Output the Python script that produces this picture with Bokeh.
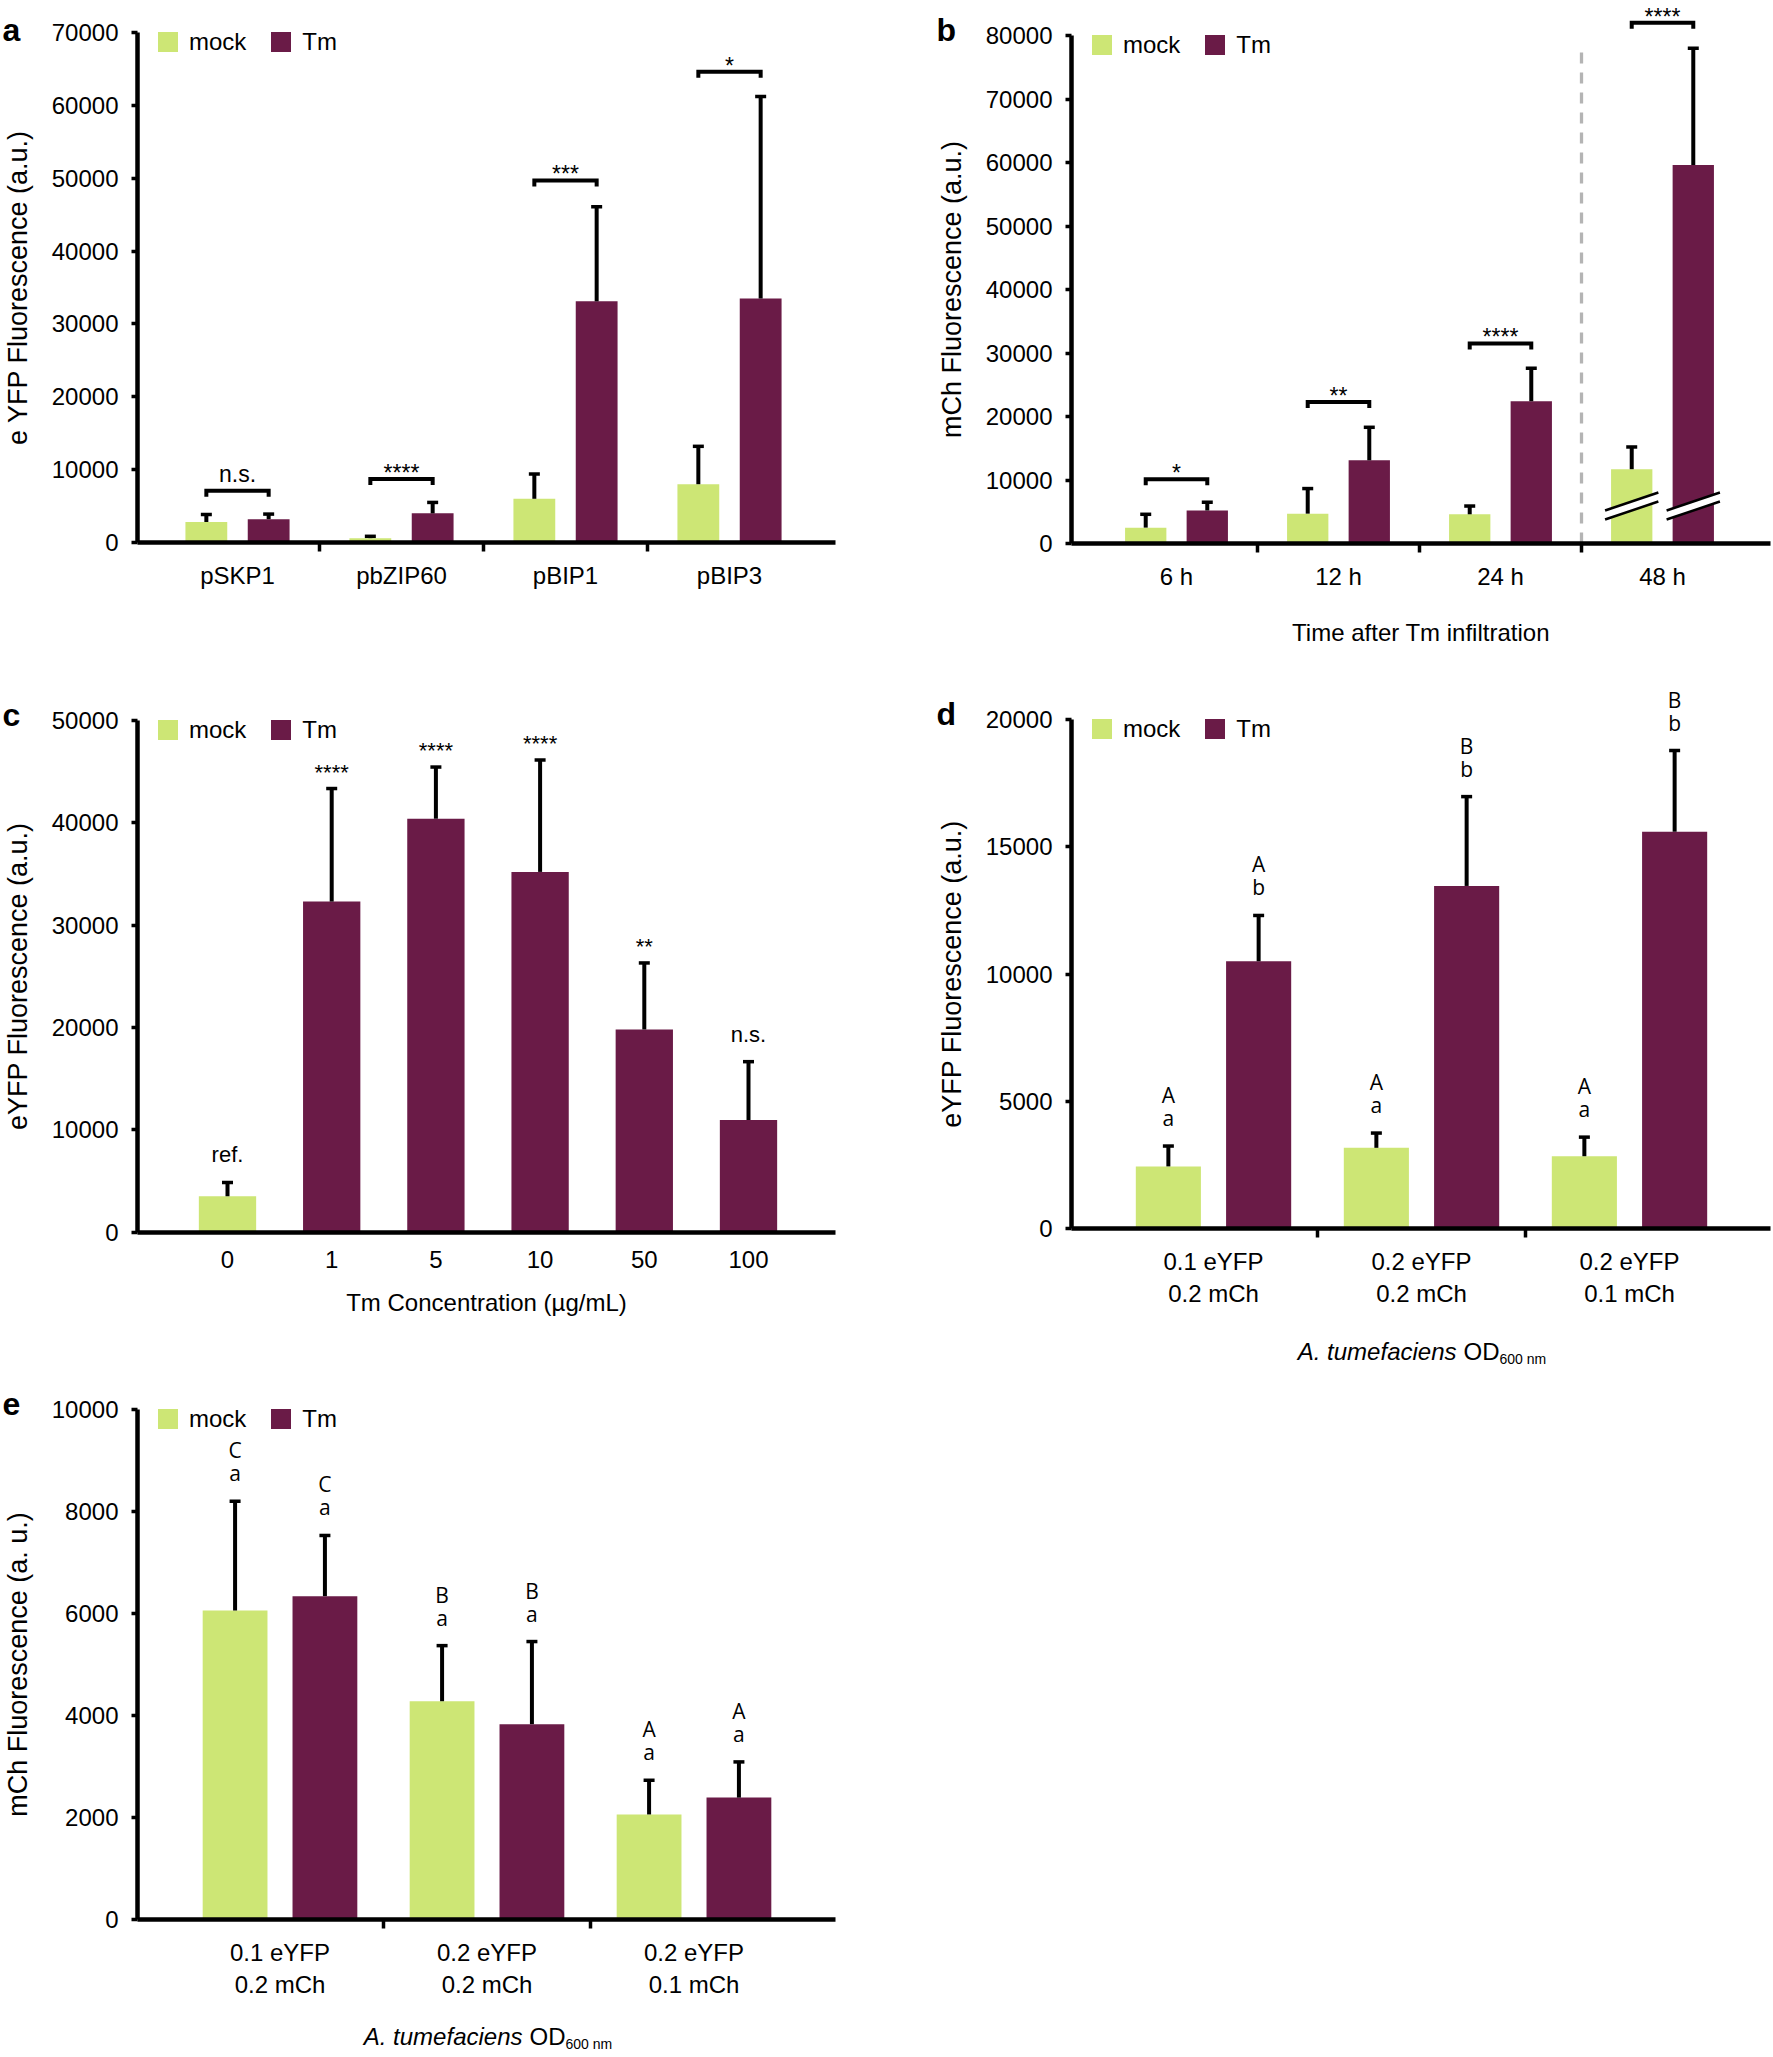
import math
from bokeh.plotting import figure
from bokeh.models import (Range1d, FixedTicker, ColumnDataSource, LabelSet, Label,
                          Legend, LegendItem, Whisker, TeeHead, NumeralTickFormatter)
from bokeh.layouts import column, row
from bokeh.embed import file_html
from bokeh.resources import INLINE
from bokeh.core.properties import value

GREEN = "#cde675"
MAROON = "#6a1b47"
FONT = "Liberation Sans"
LFONT = "Open Sans"

# ---------------- data ----------------
# panel a
a_groups = ["pSKP1", "pbZIP60", "pBIP1", "pBIP3"]
a_mock = [2800, 600, 6000, 8000]
a_mock_sd = [1050, 250, 3400, 5200]
a_tm = [3200, 4000, 33100, 33500]
a_tm_sd = [700, 1500, 13000, 27700]
a_sig = ["n.s.", "****", "***", "*"]
a_bracket = [7100, 8700, 49700, 64600]

# panel b
b_groups = ["6 h", "12 h", "24 h", "48 h"]
b_mock = [2500, 4700, 4600, 11700]
b_mock_sd = [2100, 3950, 1300, 3500]
b_tm = [5200, 13100, 22400, 59600]
b_tm_sd = [1300, 5200, 5200, 18400]
b_sig = ["*", "**", "****", "****"]
b_bracket = [10100, 22300, 31500, 82000]
b_break_group = "48 h"
b_break_level = 5900

# panel c
c_conc = ["0", "1", "5", "10", "50", "100"]
c_mean = [3500, 32300, 40400, 35200, 19800, 10950]
c_sd = [1350, 11050, 5050, 10950, 6500, 5700]
c_sig = ["ref.", "****", "****", "****", "**", "n.s."]

# panel d
d_groups = ["0.1 eYFP\n0.2 mCh", "0.2 eYFP\n0.2 mCh", "0.2 eYFP\n0.1 mCh"]
d_mock = [2440, 3170, 2840]
d_mock_sd = [800, 580, 750]
d_tm = [10500, 13460, 15590]
d_tm_sd = [1800, 3510, 3190]
d_mock_upper = ["A", "A", "A"]
d_mock_lower = ["a", "a", "a"]
d_tm_upper = ["A", "B", "B"]
d_tm_lower = ["b", "b", "b"]

# panel e
e_groups = ["0.1 eYFP\n0.2 mCh", "0.2 eYFP\n0.2 mCh", "0.2 eYFP\n0.1 mCh"]
e_mock = [6060, 4280, 2060]
e_mock_sd = [2140, 1090, 670]
e_tm = [6340, 3830, 2390]
e_tm_sd = [1190, 1620, 700]
e_mock_upper = ["C", "B", "A"]
e_mock_lower = ["a", "a", "a"]
e_tm_upper = ["C", "B", "A"]
e_tm_lower = ["a", "a", "a"]


# ---------------- helpers ----------------
class Panel:
    pass


def panel(W, H, L, R, c0, s, z, t, ytop, ystep, ylabel, xticks, xlabels, xminor,
          letter, letter_x, letter_dy=6):
    """W,H canvas size; L,R axis x pixels; c0 pixel of category 0; s pixels per category;
    z pixel of y=0; t pixel of top tick (pixels from canvas top-left)."""
    x0 = -c0 / s
    x1 = x0 + W / s
    xL = x0 + L / s
    xR = x0 + R / s
    u = ytop / (z - t)
    y0 = -(H - z) * u
    y1 = ytop + t * u
    p = figure(width=W, height=H, x_range=Range1d(x0, x1), y_range=Range1d(y0, y1),
               output_backend="svg", toolbar_location=None, min_border=0)
    p.grid.visible = False
    p.outline_line_color = None
    p.background_fill_color = "white"
    p.border_fill_color = "white"

    ya = p.yaxis[0]
    ya.fixed_location = xL
    ya.ticker = FixedTicker(ticks=list(range(0, ytop + 1, ystep)), minor_ticks=[])
    ya.formatter = NumeralTickFormatter(format="0")
    ya.bounds = (0, ytop)
    ya.axis_line_width = 4.5
    ya.axis_line_color = "black"
    ya.major_tick_line_width = 3.5
    ya.major_tick_line_color = "black"
    ya.major_tick_out = 6
    ya.major_tick_in = 0
    ya.minor_tick_out = 0
    ya.minor_tick_in = 0
    ya.major_label_standoff = 13
    ya.major_label_text_font = FONT
    ya.major_label_text_font_size = "24px"
    ya.major_label_text_color = "black"

    xa = p.xaxis[0]
    xa.fixed_location = 0
    xa.bounds = (xL, xR)
    xa.ticker = FixedTicker(ticks=xticks, minor_ticks=xminor)
    xa.major_label_overrides = {tk: lab for tk, lab in zip(xticks, xlabels)}
    xa.axis_line_width = 4.5
    xa.axis_line_color = "black"
    xa.major_tick_out = 0
    xa.major_tick_in = 0
    xa.minor_tick_out = 9
    xa.minor_tick_in = 0
    xa.minor_tick_line_width = 3.5
    xa.minor_tick_line_color = "black"
    xa.major_label_standoff = 10 if xminor else 19
    xa.major_label_text_font = FONT
    xa.major_label_text_font_size = "24px"
    xa.major_label_text_color = "black"

    # y-axis title
    p.add_layout(Label(x=xL, y=ytop / 2, x_offset=-120, angle=math.pi / 2, text=ylabel,
                       text_align="center", text_baseline="middle", text_font=FONT,
                       text_font_size="27px", text_color="black"))
    # panel letter
    p.add_layout(Label(x=x0, y=ytop, x_offset=letter_x, y_offset=letter_dy, text=letter,
                       text_font=FONT, text_font_style="bold", text_font_size="32px",
                       text_color="black", text_baseline="alphabetic", text_align="left"))
    g = Panel()
    g.p, g.W, g.H, g.L, g.R, g.t, g.z = p, W, H, L, R, t, z
    g.xL, g.xR, g.ytop, g.u, g.s = xL, xR, ytop, u, s
    return g


def whiskers(p, xs, means, sds):
    src = ColumnDataSource(dict(x=xs, lo=means, hi=[m + sd for m, sd in zip(means, sds)]))
    p.add_layout(Whisker(source=src, base="x", lower="lo", upper="hi", dimension="height",
                         line_color="black", line_width=4, lower_head=None, level="annotation",
                         upper_head=TeeHead(size=11, line_color="black", line_width=3.5)))


def grouped(p, n, mock, mock_sd, tm, tm_sd, off, bw):
    xm = [i - off for i in range(n)]
    xt = [i + off for i in range(n)]
    rm = p.vbar(x=xm, top=mock, bottom=0, width=bw, fill_color=GREEN, line_color=None)
    rt = p.vbar(x=xt, top=tm, bottom=0, width=bw, fill_color=MAROON, line_color=None)
    whiskers(p, xm, mock, mock_sd)
    whiskers(p, xt, tm, tm_sd)
    return xm, xt, rm, rt


def legend(g, rm, rt):
    leg = Legend(items=[LegendItem(label="mock", renderers=[rm]),
                        LegendItem(label="Tm", renderers=[rt])],
                 location=(g.L + 18, g.H - g.t - 23.5), orientation="horizontal",
                 glyph_width=25, glyph_height=25, label_height=28, label_standoff=9,
                 spacing=22, padding=0, margin=0, border_line_color=None,
                 background_fill_alpha=0, label_text_font=FONT, label_text_font_size="24px",
                 label_text_color="black")
    g.p.add_layout(leg)


def text_labels(p, xs, ys, texts, offsets, font, size):
    src = ColumnDataSource(dict(x=xs, y=ys, t=texts, o=offsets))
    p.add_layout(LabelSet(source=src, x="x", y="y", text="t", y_offset="o",
                          text_align="center", text_baseline="alphabetic",
                          text_font=value(font), text_font_size=value(size), text_color="black"))


def brackets(p, xl, xr, ys, tick):
    p.multi_line(xs=[[a, a, b, b] for a, b in zip(xl, xr)],
                 ys=[[y - tick, y, y, y - tick] for y in ys],
                 line_color="black", line_width=4, line_join="miter")


def sig_offset(txt):
    return -2 if txt.startswith("*") else 9


def x_title(g, text, dy):
    g.p.add_layout(Label(x=(g.xL + g.xR) / 2, y=0, y_offset=dy, text=text, text_font=FONT,
                         text_font_size="24px", text_color="black", text_align="center",
                         text_baseline="alphabetic"))


def od_label(g, dx, dy):
    common = dict(x=g.xL, y=0, text_font=FONT, text_color="black", text_baseline="alphabetic")
    g.p.add_layout(Label(x_offset=dx, y_offset=dy, text="A. tumefaciens",
                         text_font_style="italic", text_font_size="24px", text_align="right",
                         **common))
    g.p.add_layout(Label(x_offset=dx + 7, y_offset=dy, text="OD", text_font_size="24px",
                         text_align="left", **common))
    g.p.add_layout(Label(x_offset=dx + 43, y_offset=dy - 7, text="600 nm", text_font_size="14px",
                         text_align="left", **common))


def letter_pairs(p, xs, means, sds, upper, lower):
    tops = [m + sd for m, sd in zip(means, sds)]
    text_labels(p, xs, tops, lower, [20] * len(xs), LFONT, "21px")
    text_labels(p, xs, tops, upper, [43] * len(xs), LFONT, "21px")


LEFT_W, RIGHT_W = 888, 885
ROW1, ROW2, ROW3 = 680, 690, 685
OFF_AB, BW_AB = 0.19, 0.255
OFF_DE, BW_DE = 0.217, 0.313

# ---------------- panel a ----------------
n = len(a_groups)
ga = panel(LEFT_W, ROW1, 137, 835, 237, 164, 542, 32, 70000, 10000,
           "e YFP Fluorescence (a.u.)", list(range(n)), a_groups,
           [i + 0.5 for i in range(n - 1)], "a", 2, 3)
pa = ga.p
xm, xt, rm, rt = grouped(pa, n, a_mock, a_mock_sd, a_tm, a_tm_sd, OFF_AB, BW_AB)
brackets(pa, xm, xt, a_bracket, 6 * ga.u)
text_labels(pa, list(range(n)), a_bracket, a_sig, [sig_offset(x) for x in a_sig], FONT, "23px")
legend(ga, rm, rt)

# ---------------- panel b ----------------
n = len(b_groups)
gb = panel(RIGHT_W, ROW1, 183, 882, 288, 162, 543, 35, 80000, 10000,
           "mCh Fluorescence (a.u.)", list(range(n)), b_groups,
           [i + 0.5 for i in range(n - 1)], "b", 48)
pb = gb.p
ib = b_groups.index(b_break_group)
pb.segment(x0=[ib - 0.5], y0=[0], x1=[ib - 0.5], y1=[b_tm[ib] + b_tm_sd[ib]],
           line_color="#b4b4b4", line_width=3.3, line_dash="11 9")
xm, xt, rm, rt = grouped(pb, n, b_mock, b_mock_sd, b_tm, b_tm_sd, OFF_AB, BW_AB)
brackets(pb, xm, xt, b_bracket, 6 * gb.u)
text_labels(pb, list(range(n)), b_bracket, b_sig, [sig_offset(x) for x in b_sig], FONT, "23px")
# axis-break marks on the 48 h bars
ux = 1.0 / gb.s
uy = gb.u
bxs, bys, pxs, pys = [], [], [], []
for xc in (xm[ib], xt[ib]):
    xl = xc - BW_AB / 2 - 6 * ux
    xr_ = xc + BW_AB / 2 + 6 * ux
    rise = 9 * uy
    gap = 4.5 * uy
    lo_y = [b_break_level - rise - gap, b_break_level + rise - gap]
    hi_y = [b_break_level - rise + gap, b_break_level + rise + gap]
    bxs += [[xl, xr_], [xl, xr_]]
    bys += [lo_y, hi_y]
    pxs.append([xl, xr_, xr_, xl])
    pys.append([lo_y[0], lo_y[1], hi_y[1], hi_y[0]])
pb.patches(xs=pxs, ys=pys, fill_color="white", line_color=None)
pb.multi_line(xs=bxs, ys=bys, line_color="black", line_width=2.5)
legend(gb, rm, rt)
x_title(gb, "Time after Tm infiltration", -89)

# ---------------- panel c ----------------
n = len(c_conc)
gc = panel(LEFT_W, ROW2, 137, 835, 227, 104.2, 1231.5 - ROW1, 720 - ROW1, 50000, 10000,
           "eYFP Fluorescence (a.u.)", list(range(n)), c_conc, [], "c", 2)
pc = gc.p
xs_c = list(range(n))
rm = pc.vbar(x=xs_c[:1], top=c_mean[:1], bottom=0, width=0.55, fill_color=GREEN, line_color=None)
rt = pc.vbar(x=xs_c[1:], top=c_mean[1:], bottom=0, width=0.55, fill_color=MAROON, line_color=None)
whiskers(pc, xs_c, c_mean, c_sd)
text_labels(pc, xs_c, [m + sd for m, sd in zip(c_mean, c_sd)], c_sig,
            [9 if x.startswith("*") else 20 for x in c_sig], FONT, "22px")
legend(gc, rm, rt)
x_title(gc, "Tm Concentration (\u00b5g/mL)", -70)

# ---------------- panel d ----------------
n = len(d_groups)
gd = panel(RIGHT_W, ROW2, 183, 882, 325, 208, 1228 - ROW1, 719 - ROW1, 20000, 5000,
           "eYFP Fluorescence (a.u.)", list(range(n)), d_groups,
           [i + 0.5 for i in range(n - 1)], "d", 48)
pd_ = gd.p
xm, xt, rm, rt = grouped(pd_, n, d_mock, d_mock_sd, d_tm, d_tm_sd, OFF_DE, BW_DE)
letter_pairs(pd_, xm, d_mock, d_mock_sd, d_mock_upper, d_mock_lower)
letter_pairs(pd_, xt, d_tm, d_tm_sd, d_tm_upper, d_tm_lower)
legend(gd, rm, rt)
od_label(gd, 385, -123)

# ---------------- panel e ----------------
n = len(e_groups)
top3 = ROW1 + ROW2
ge = panel(LEFT_W, ROW3, 137, 835, 279.5, 207, 1919 - top3, 1409 - top3, 10000, 2000,
           "mCh Fluorescence (a. u.)", list(range(n)), e_groups,
           [i + 0.5 for i in range(n - 1)], "e", 2)
pe = ge.p
xm, xt, rm, rt = grouped(pe, n, e_mock, e_mock_sd, e_tm, e_tm_sd, OFF_DE, BW_DE)
letter_pairs(pe, xm, e_mock, e_mock_sd, e_mock_upper, e_mock_lower)
letter_pairs(pe, xt, e_tm, e_tm_sd, e_tm_upper, e_tm_lower)
legend(ge, rm, rt)
od_label(ge, 385, -117)

layout = column(row(pa, pb), row(pc, pd_), pe)
open("out.html", "w").write(file_html(layout, INLINE, title="Fluorescence panels"))
